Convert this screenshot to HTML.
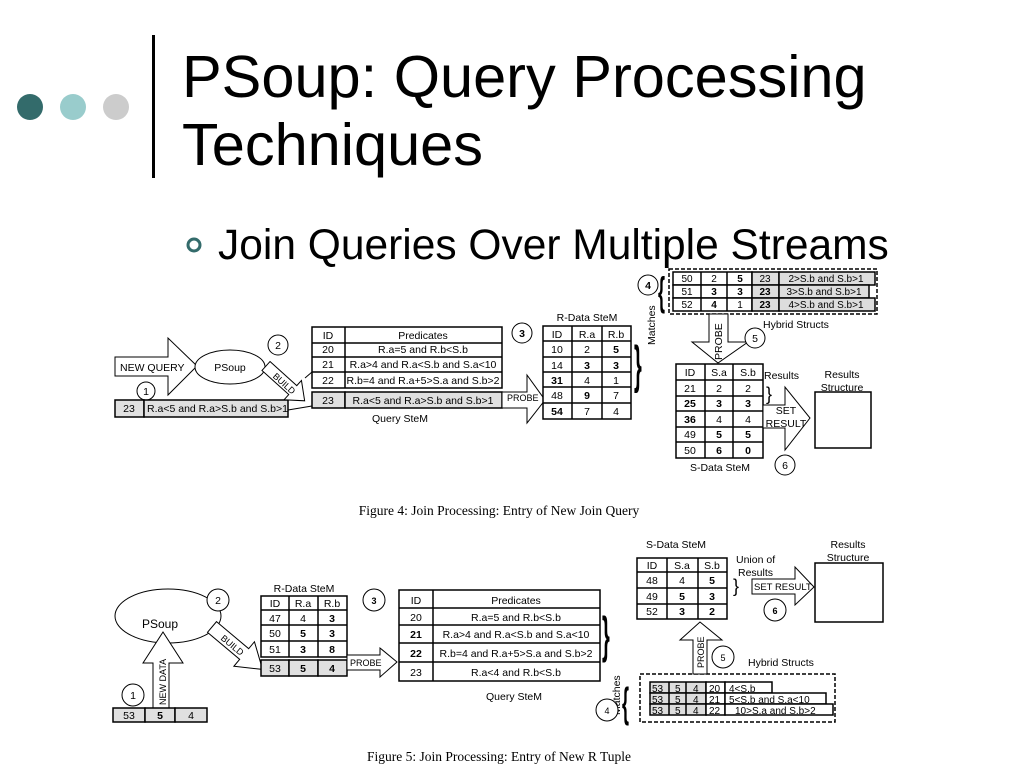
<!DOCTYPE html>
<html><head><meta charset="utf-8"><style>
html,body{margin:0;padding:0;background:#fff;}
body{width:1024px;height:768px;overflow:hidden;position:relative;font-family:"Liberation Sans",sans-serif;}
</style></head><body>
<svg width="1024" height="768" viewBox="0 0 1024 768" xmlns="http://www.w3.org/2000/svg" style="position:absolute;left:0;top:0">
<circle cx="30" cy="107" r="13" fill="#336b6b"/>
<circle cx="73" cy="107" r="13" fill="#99cccc"/>
<circle cx="116" cy="107" r="13" fill="#cccccc"/>
<rect x="152" y="35" width="3" height="143" fill="#000"/>
<text x="182" y="97" font-family="Liberation Sans" font-size="59.5" fill="#000">PSoup: Query Processing</text>
<text x="182" y="165" font-family="Liberation Sans" font-size="59.5" fill="#000">Techniques</text>
<circle cx="194" cy="245" r="6" fill="none" stroke="#336b6b" stroke-width="3"/>
<text x="218" y="259" font-family="Liberation Sans" font-size="42.5" fill="#000">Join Queries Over Multiple Streams</text>

<g font-family="Liberation Sans" font-size="10.5" fill="#000" stroke="none">
<!-- FIG 4 -->
<polygon points="115,357 168,357 168,338 197,366 168,395 168,376 115,376" fill="#fff" stroke="#000"/>
<text x="120" y="371">NEW QUERY</text>
<ellipse cx="230" cy="367" rx="35" ry="17" fill="#fff" stroke="#000"/>
<text x="230" y="371" text-anchor="middle">PSoup</text>
<circle cx="278" cy="345" r="10" fill="#fff" stroke="#000"/><text x="278" y="349" text-anchor="middle">2</text>
<circle cx="146" cy="391" r="9" fill="#fff" stroke="#000"/><text x="146" y="395" text-anchor="middle">1</text>
<rect x="115" y="400" width="29" height="17" fill="#e0e0e0" stroke="#000" stroke-width="1.5"/>
<rect x="144" y="400" width="144" height="17" fill="#e0e0e0" stroke="#000" stroke-width="1.5"/>
<text x="129" y="412" text-anchor="middle">23</text><text x="147" y="412">R.a&lt;5 and R.a&gt;S.b and S.b&gt;1</text>
<g transform="translate(266,366) rotate(42)">
<polygon points="0,-6 36,-6 36,-13 52,0 36,13 36,6 0,6" fill="#fff" stroke="#000"/>
<text x="12" y="4" font-size="9">BUILD</text></g>
<line x1="288" y1="410" x2="312" y2="406" stroke="#000"/>
<line x1="305" y1="378" x2="312" y2="372" stroke="#000"/>
<g stroke="#000" stroke-width="1.5" fill="#fff">
<rect x="312" y="327" width="190" height="61"/>
<line x1="345" y1="327" x2="345" y2="388"/>
<line x1="312" y1="343" x2="502" y2="343"/><line x1="312" y1="357" x2="502" y2="357"/><line x1="312" y1="372" x2="502" y2="372"/>
<rect x="312" y="392" width="33" height="16" fill="#e0e0e0"/><rect x="345" y="392" width="157" height="16" fill="#e0e0e0"/>
</g>
<text x="328" y="339" text-anchor="middle">ID</text><text x="423" y="339" text-anchor="middle">Predicates</text>
<text x="328" y="353" text-anchor="middle">20</text><text x="423" y="353" text-anchor="middle">R.a=5 and R.b&lt;S.b</text>
<text x="328" y="368" text-anchor="middle">21</text><text x="423" y="368" text-anchor="middle">R.a&gt;4 and R.a&lt;S.b and S.a&lt;10</text>
<text x="328" y="384" text-anchor="middle">22</text><text x="423" y="384" text-anchor="middle">R.b=4 and R.a+5&gt;S.a and S.b&gt;2</text>
<text x="328" y="404" text-anchor="middle">23</text><text x="423" y="404" text-anchor="middle">R.a&lt;5 and R.a&gt;S.b and S.b&gt;1</text>
<text x="400" y="422" text-anchor="middle">Query SteM</text>
<circle cx="522" cy="333" r="10" fill="#fff" stroke="#000"/><text x="522" y="337" text-anchor="middle" font-weight="bold">3</text>
<polygon points="502,392 527,392 527,375 545,400 527,423 527,408 502,408" fill="#fff" stroke="#000"/>
<text x="507" y="401" font-size="9">PROBE</text>
<text x="587" y="321" text-anchor="middle">R-Data SteM</text>
<g stroke="#000" stroke-width="1.5" fill="none">
<rect x="543" y="326" width="88" height="93" fill="#fff"/>
<line x1="572" y1="326" x2="572" y2="419"/><line x1="602" y1="326" x2="602" y2="419"/>
<line x1="543" y1="341" x2="631" y2="341"/><line x1="543" y1="357" x2="631" y2="357"/><line x1="543" y1="372" x2="631" y2="372"/><line x1="543" y1="387" x2="631" y2="387"/><line x1="543" y1="403" x2="631" y2="403"/>
</g>
<g text-anchor="middle">
<text x="557" y="338">ID</text><text x="587" y="338">R.a</text><text x="616" y="338">R.b</text>
<text x="557" y="353">10</text><text x="587" y="353">2</text><text x="616" y="353" font-weight="bold">5</text>
<text x="557" y="369">14</text><text x="587" y="369" font-weight="bold">3</text><text x="616" y="369" font-weight="bold">3</text>
<text x="557" y="384" font-weight="bold">31</text><text x="587" y="384">4</text><text x="616" y="384">1</text>
<text x="557" y="399">48</text><text x="587" y="399" font-weight="bold">9</text><text x="616" y="399">7</text>
<text x="557" y="415" font-weight="bold">54</text><text x="587" y="415">7</text><text x="616" y="415">4</text>
</g>
<text transform="translate(634,382) scale(1,2.6)" font-size="20" font-weight="bold">}</text>
<text transform="translate(655,345) rotate(-90)">Matches</text>
<circle cx="648" cy="285" r="10" fill="#fff" stroke="#000"/><text x="648" y="289" text-anchor="middle" font-weight="bold">4</text>
<text transform="translate(658,305) scale(1,2.2)" font-size="18" font-weight="bold">{</text>
<rect x="669" y="269" width="208" height="45" fill="none" stroke="#000" stroke-width="1.5" stroke-dasharray="4,2"/>
<g stroke="#000" stroke-width="1.5">
<rect x="673" y="272" width="79" height="13" fill="#fff"/><rect x="752" y="272" width="27" height="13" fill="#ddd"/><rect x="779" y="272" width="96" height="13" fill="#ddd"/>
<rect x="673" y="285" width="79" height="13" fill="#fff"/><rect x="752" y="285" width="27" height="13" fill="#ddd"/><rect x="779" y="285" width="90" height="13" fill="#ddd"/>
<rect x="673" y="298" width="79" height="13" fill="#fff"/><rect x="752" y="298" width="27" height="13" fill="#ddd"/><rect x="779" y="298" width="96" height="13" fill="#ddd"/>
<line x1="701" y1="272" x2="701" y2="311"/><line x1="727" y1="272" x2="727" y2="311"/>
</g>
<g text-anchor="middle" font-size="10">
<text x="687" y="282">50</text><text x="714" y="282">2</text><text x="740" y="282" font-weight="bold">5</text><text x="765" y="282">23</text><text x="826" y="282">2&gt;S.b and S.b&gt;1</text>
<text x="687" y="295">51</text><text x="714" y="295" font-weight="bold">3</text><text x="740" y="295" font-weight="bold">3</text><text x="765" y="295" font-weight="bold">23</text><text x="824" y="295">3&gt;S.b and S.b&gt;1</text>
<text x="687" y="308">52</text><text x="714" y="308" font-weight="bold">4</text><text x="740" y="308">1</text><text x="765" y="308" font-weight="bold">23</text><text x="826" y="308">4&gt;S.b and S.b&gt;1</text>
</g>
<polygon points="709,314 728,314 728,342 748,342 718,363 692,342 709,342" fill="#fff" stroke="#000"/>
<text transform="translate(722,360) rotate(-90)">PROBE</text>
<circle cx="755" cy="338" r="10" fill="#fff" stroke="#000"/><text x="755" y="342" text-anchor="middle">5</text>
<text x="763" y="328">Hybrid Structs</text>
<g stroke="#000" stroke-width="1.5" fill="none">
<rect x="676" y="364" width="87" height="94" fill="#fff"/>
<line x1="705" y1="364" x2="705" y2="458"/><line x1="733" y1="364" x2="733" y2="458"/>
<line x1="676" y1="380" x2="763" y2="380"/><line x1="676" y1="396" x2="763" y2="396"/><line x1="676" y1="411" x2="763" y2="411"/><line x1="676" y1="427" x2="763" y2="427"/><line x1="676" y1="442" x2="763" y2="442"/>
</g>
<g text-anchor="middle">
<text x="690" y="376">ID</text><text x="719" y="376">S.a</text><text x="748" y="376">S.b</text>
<text x="690" y="392">21</text><text x="719" y="392">2</text><text x="748" y="392">2</text>
<text x="690" y="407" font-weight="bold">25</text><text x="719" y="407" font-weight="bold">3</text><text x="748" y="407" font-weight="bold">3</text>
<text x="690" y="423" font-weight="bold">36</text><text x="719" y="423">4</text><text x="748" y="423">4</text>
<text x="690" y="438">49</text><text x="719" y="438" font-weight="bold">5</text><text x="748" y="438" font-weight="bold">5</text>
<text x="690" y="454">50</text><text x="719" y="454" font-weight="bold">6</text><text x="748" y="454" font-weight="bold">0</text>
</g>
<text x="720" y="471" text-anchor="middle">S-Data SteM</text>
<text x="764" y="379">Results</text>
<text x="766" y="400" font-size="18">}</text>
<polygon points="763,405 785,405 785,387 810,418 785,450 785,428 763,428" fill="#fff" stroke="#000"/>
<text x="786" y="414" text-anchor="middle">SET</text><text x="786" y="427" text-anchor="middle">RESULT</text>
<rect x="815" y="392" width="56" height="56" fill="#fff" stroke="#000" stroke-width="1.5"/>
<text x="842" y="378" text-anchor="middle">Results</text><text x="842" y="391" text-anchor="middle">Structure</text>
<circle cx="785" cy="465" r="10" fill="#fff" stroke="#000"/><text x="785" y="469" text-anchor="middle">6</text>

<!-- FIG 5 -->
<ellipse cx="168" cy="616" rx="53" ry="27" fill="#fff" stroke="#000"/>
<text x="160" y="628" text-anchor="middle" font-size="12">PSoup</text>
<circle cx="218" cy="600" r="11" fill="#fff" stroke="#000"/><text x="218" y="604" text-anchor="middle">2</text>
<polygon points="153,708 153,663 143,663 163,632 183,663 169,663 169,708" fill="#fff" stroke="#000"/>
<text transform="translate(166,705) rotate(-90)" font-size="9">NEW DATA</text>
<circle cx="133" cy="695" r="11" fill="#fff" stroke="#000"/><text x="133" y="699" text-anchor="middle">1</text>
<g stroke="#000" stroke-width="1.5">
<rect x="113" y="708" width="32" height="14" fill="#e0e0e0"/><rect x="145" y="708" width="30" height="14" fill="#e0e0e0"/><rect x="175" y="708" width="32" height="14" fill="#e0e0e0"/>
</g>
<g text-anchor="middle"><text x="129" y="719">53</text><text x="160" y="719" font-weight="bold">5</text><text x="191" y="719">4</text></g>
<g transform="translate(212,627) rotate(40)">
<polygon points="0,-7 42,-7 42,-16 66,0 42,16 42,7 0,7" fill="#fff" stroke="#000"/>
<text x="14" y="4" font-size="9">BUILD</text></g>
<text x="304" y="592" text-anchor="middle">R-Data SteM</text>
<g stroke="#000" stroke-width="1.5" fill="none">
<rect x="261" y="596" width="86" height="61" fill="#fff"/>
<line x1="289" y1="596" x2="289" y2="657"/><line x1="318" y1="596" x2="318" y2="657"/>
<line x1="261" y1="610" x2="347" y2="610"/><line x1="261" y1="625" x2="347" y2="625"/><line x1="261" y1="641" x2="347" y2="641"/>
<rect x="261" y="660" width="28" height="16" fill="#e0e0e0"/><rect x="289" y="660" width="29" height="16" fill="#e0e0e0"/><rect x="318" y="660" width="29" height="16" fill="#e0e0e0"/>
</g>
<g text-anchor="middle">
<text x="275" y="607">ID</text><text x="303" y="607">R.a</text><text x="332" y="607">R.b</text>
<text x="275" y="622">47</text><text x="303" y="622">4</text><text x="332" y="622" font-weight="bold">3</text>
<text x="275" y="637">50</text><text x="303" y="637" font-weight="bold">5</text><text x="332" y="637" font-weight="bold">3</text>
<text x="275" y="653">51</text><text x="303" y="653" font-weight="bold">3</text><text x="332" y="653" font-weight="bold">8</text>
<text x="275" y="672">53</text><text x="303" y="672" font-weight="bold">5</text><text x="332" y="672" font-weight="bold">4</text>
</g>
<circle cx="374" cy="600" r="11" fill="#fff" stroke="#000"/><text x="374" y="604" text-anchor="middle" font-size="9" font-weight="bold">3</text>
<polygon points="347,655 380,655 380,648 397,662 380,677 380,670 347,670" fill="#fff" stroke="#000"/>
<text x="350" y="666" font-size="9">PROBE</text>
<g stroke="#000" stroke-width="1.5" fill="none">
<rect x="399" y="590" width="201" height="91" fill="#fff"/>
<line x1="433" y1="590" x2="433" y2="681"/>
<line x1="399" y1="608" x2="600" y2="608"/><line x1="399" y1="625" x2="600" y2="625"/><line x1="399" y1="643" x2="600" y2="643"/><line x1="399" y1="662" x2="600" y2="662"/>
</g>
<g text-anchor="middle">
<text x="416" y="604">ID</text><text x="516" y="604">Predicates</text>
<text x="416" y="621">20</text><text x="516" y="621">R.a=5 and R.b&lt;S.b</text>
<text x="416" y="638" font-weight="bold">21</text><text x="516" y="638">R.a&gt;4 and R.a&lt;S.b and S.a&lt;10</text>
<text x="416" y="657" font-weight="bold">22</text><text x="516" y="657">R.b=4 and R.a+5&gt;S.a and S.b&gt;2</text>
<text x="416" y="676">23</text><text x="516" y="676">R.a&lt;4 and R.b&lt;S.b</text>
</g>
<text x="514" y="700" text-anchor="middle">Query SteM</text>
<text transform="translate(602,652) scale(1,2.5)" font-size="20" font-weight="bold">}</text>
<text transform="translate(620,715) rotate(-90)">Matches</text>
<circle cx="607" cy="710" r="11" fill="#fff" stroke="#000"/><text x="607" y="714" text-anchor="middle" font-size="9">4</text>
<text transform="translate(622,717) scale(1,2.3)" font-size="18" font-weight="bold">{</text>
<rect x="640" y="674" width="195" height="48" fill="none" stroke="#000" stroke-width="1.5" stroke-dasharray="4,2"/>
<g stroke="#000" stroke-width="1.5">
<rect x="650" y="682" width="56" height="11" fill="#ddd"/><rect x="706" y="682" width="19" height="11" fill="#fff"/><rect x="725" y="682" width="47" height="11" fill="#fff"/>
<rect x="650" y="693" width="56" height="11" fill="#ddd"/><rect x="706" y="693" width="19" height="11" fill="#fff"/><rect x="725" y="693" width="101" height="11" fill="#fff"/>
<rect x="650" y="704" width="56" height="11" fill="#ddd"/><rect x="706" y="704" width="19" height="11" fill="#fff"/><rect x="725" y="704" width="108" height="11" fill="#fff"/>
<line x1="669" y1="682" x2="669" y2="715"/><line x1="686" y1="682" x2="686" y2="715"/>
</g>
<g font-size="10">
<text x="652" y="692">53</text><text x="675" y="692">5</text><text x="693" y="692">4</text><text x="709" y="692">20</text><text x="729" y="692">4&lt;S.b</text>
<text x="652" y="703">53</text><text x="675" y="703">5</text><text x="693" y="703">4</text><text x="709" y="703">21</text><text x="729" y="703">5&lt;S.b and S.a&lt;10</text>
<text x="652" y="714">53</text><text x="675" y="714">5</text><text x="693" y="714">4</text><text x="709" y="714">22</text><text x="735" y="714">10&gt;S.a and S.b&gt;2</text>
</g>
<polygon points="693,674 693,640 680,640 700,622 722,640 707,640 707,674" fill="#fff" stroke="#000"/>
<text transform="translate(704,668) rotate(-90)" font-size="9">PROBE</text>
<circle cx="723" cy="657" r="11" fill="#fff" stroke="#000"/><text x="723" y="661" text-anchor="middle" font-size="9">5</text>
<text x="748" y="666">Hybrid Structs</text>
<text x="676" y="548" text-anchor="middle">S-Data SteM</text>
<g stroke="#000" stroke-width="1.5" fill="none">
<rect x="637" y="558" width="90" height="61" fill="#fff"/>
<line x1="667" y1="558" x2="667" y2="619"/><line x1="698" y1="558" x2="698" y2="619"/>
<line x1="637" y1="572" x2="727" y2="572"/><line x1="637" y1="588" x2="727" y2="588"/><line x1="637" y1="604" x2="727" y2="604"/>
</g>
<g text-anchor="middle">
<text x="652" y="569">ID</text><text x="682" y="569">S.a</text><text x="712" y="569">S.b</text>
<text x="652" y="584">48</text><text x="682" y="584">4</text><text x="712" y="584" font-weight="bold">5</text>
<text x="652" y="600">49</text><text x="682" y="600" font-weight="bold">5</text><text x="712" y="600" font-weight="bold">3</text>
<text x="652" y="615">52</text><text x="682" y="615" font-weight="bold">3</text><text x="712" y="615" font-weight="bold">2</text>
</g>
<text x="736" y="563">Union of</text><text x="738" y="576">Results</text>
<text x="733" y="592" font-size="18">}</text>
<polygon points="752,579 795,579 795,567 814,587 795,605 795,594 752,594" fill="#fff" stroke="#000"/>
<text x="754" y="590" font-size="9.5">SET RESULT</text>
<rect x="815" y="563" width="68" height="59" fill="#fff" stroke="#000" stroke-width="1.5"/>
<text x="848" y="548" text-anchor="middle">Results</text><text x="848" y="561" text-anchor="middle">Structure</text>
<circle cx="775" cy="610" r="11" fill="#fff" stroke="#000"/><text x="775" y="614" text-anchor="middle" font-size="9" font-weight="bold">6</text>
</g>
<text x="499" y="515" text-anchor="middle" font-family="Liberation Serif" font-size="13.5">Figure 4: Join Processing: Entry of New Join Query</text>
<text x="499" y="761" text-anchor="middle" font-family="Liberation Serif" font-size="13.5">Figure 5: Join Processing: Entry of New R Tuple</text>
</svg>
</body></html>
